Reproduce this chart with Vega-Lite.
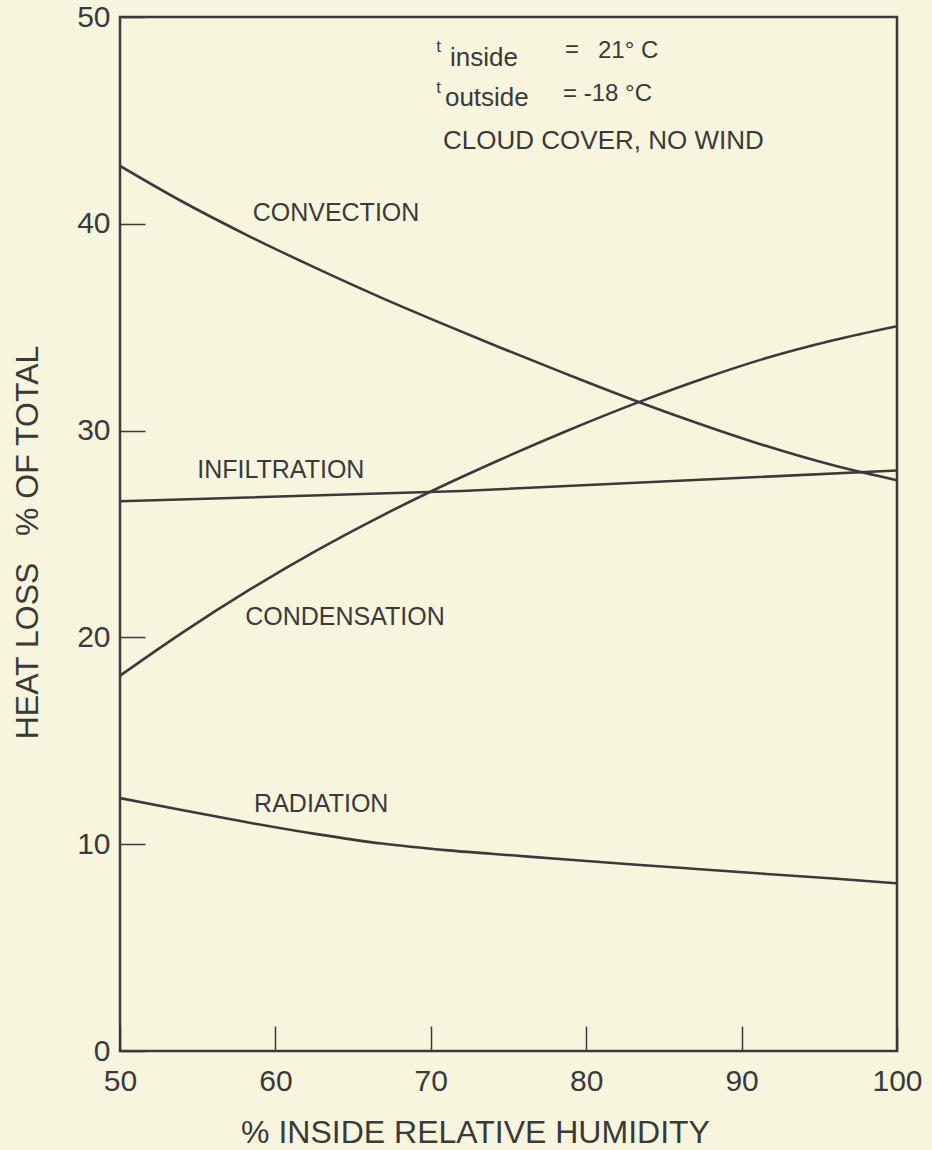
{
  "$schema": "https://vega.github.io/schema/vega-lite/v6.json",
  "width": 777,
  "height": 1034,
  "autosize": "none",
  "padding": {"left": 120, "top": 17, "right": 35, "bottom": 99},
  "background": "#f8f5df",
  "config": {
    "view": {"stroke": "#3a3a3a", "strokeWidth": 2.5},
    "font": "Liberation Sans",
    "axis": {
      "domain": false,
      "grid": false,
      "labelFlush": false,
      "labelOverlap": false,
      "tickColor": "#3a3a3a",
      "tickWidth": 1.5,
      "tickSize": -25,
      "labelColor": "#3a3a3a",
      "labelFont": "Liberation Sans",
      "labelFontSize": 30,
      "titleColor": "#3a3a3a",
      "titleFont": "Liberation Sans",
      "titleFontSize": 32,
      "titleFontWeight": "normal"
    }
  },
  "layer": [
    {
      "data": {
        "values": [
          {"series": "Convection", "rh": 50, "pct": 42.8},
          {"series": "Convection", "rh": 53.97, "pct": 41.09},
          {"series": "Convection", "rh": 58.26, "pct": 39.42},
          {"series": "Convection", "rh": 62.55, "pct": 37.88},
          {"series": "Convection", "rh": 66.84, "pct": 36.42},
          {"series": "Convection", "rh": 70.27, "pct": 35.32},
          {"series": "Convection", "rh": 74.45, "pct": 34.02},
          {"series": "Convection", "rh": 78.74, "pct": 32.73},
          {"series": "Convection", "rh": 83.46, "pct": 31.36},
          {"series": "Convection", "rh": 87.32, "pct": 30.32},
          {"series": "Convection", "rh": 91.6, "pct": 29.25},
          {"series": "Convection", "rh": 95.9, "pct": 28.32},
          {"series": "Convection", "rh": 100, "pct": 27.6},
          {"series": "Condensation", "rh": 50, "pct": 18.15},
          {"series": "Condensation", "rh": 53.97, "pct": 20.21},
          {"series": "Condensation", "rh": 58.26, "pct": 22.27},
          {"series": "Condensation", "rh": 62.55, "pct": 24.16},
          {"series": "Condensation", "rh": 66.84, "pct": 25.88},
          {"series": "Condensation", "rh": 70.27, "pct": 27.15},
          {"series": "Condensation", "rh": 74.45, "pct": 28.59},
          {"series": "Condensation", "rh": 78.74, "pct": 29.98},
          {"series": "Condensation", "rh": 83.46, "pct": 31.4},
          {"series": "Condensation", "rh": 87.32, "pct": 32.46},
          {"series": "Condensation", "rh": 91.6, "pct": 33.51},
          {"series": "Condensation", "rh": 95.9, "pct": 34.37},
          {"series": "Condensation", "rh": 100, "pct": 35.05},
          {"series": "Infiltration", "rh": 50, "pct": 26.58},
          {"series": "Infiltration", "rh": 72, "pct": 27.08},
          {"series": "Infiltration", "rh": 100, "pct": 28.07},
          {"series": "Radiation", "rh": 50, "pct": 12.23},
          {"series": "Radiation", "rh": 53.97, "pct": 11.65},
          {"series": "Radiation", "rh": 58.26, "pct": 11.05},
          {"series": "Radiation", "rh": 62.55, "pct": 10.5},
          {"series": "Radiation", "rh": 66.84, "pct": 10.03},
          {"series": "Radiation", "rh": 71.13, "pct": 9.7},
          {"series": "Radiation", "rh": 75.42, "pct": 9.45},
          {"series": "Radiation", "rh": 78.74, "pct": 9.26},
          {"series": "Radiation", "rh": 83.03, "pct": 9.02},
          {"series": "Radiation", "rh": 87.32, "pct": 8.79},
          {"series": "Radiation", "rh": 91.6, "pct": 8.56},
          {"series": "Radiation", "rh": 95.9, "pct": 8.34},
          {"series": "Radiation", "rh": 100, "pct": 8.11}
        ]
      },
      "mark": {"type": "line", "interpolate": "monotone", "color": "#3a3a3a", "strokeWidth": 2.6, "clip": true},
      "encoding": {
        "x": {
          "field": "rh", "type": "quantitative",
          "scale": {"domain": [50, 100], "nice": false, "zero": false},
          "axis": {
            "values": [50, 60, 70, 80, 90, 100],
            "title": "% INSIDE RELATIVE HUMIDITY",
            "labelPadding": 40,
            "titleX": 355,
            "titleY": 91,
            "titleBaseline": "alphabetic",
            "titleAnchor": "middle"
          }
        },
        "y": {
          "field": "pct", "type": "quantitative",
          "scale": {"domain": [0, 50], "nice": false},
          "axis": {
            "values": [0, 10, 20, 30, 40, 50],
            "title": "HEAT LOSS\u00a0\u00a0\u00a0% OF TOTAL",
            "labelPadding": 35,
            "titleX": -83,
            "titleY": 525,
            "titleAngle": -90,
            "titleBaseline": "alphabetic",
            "titleAlign": "center"
          }
        },
        "detail": {"field": "series"}
      }
    },
    {
      "data": {
        "values": [
          {"rh": 63.9, "pct": 40.12, "label": "CONVECTION"},
          {"rh": 60.35, "pct": 27.71, "label": "INFILTRATION"},
          {"rh": 64.48, "pct": 20.58, "label": "CONDENSATION"},
          {"rh": 62.95, "pct": 11.58, "label": "RADIATION"}
        ]
      },
      "mark": {"type": "text", "align": "center", "baseline": "alphabetic", "fontSize": 25, "color": "#3a3a3a", "font": "Liberation Sans"},
      "encoding": {
        "x": {"field": "rh", "type": "quantitative"},
        "y": {"field": "pct", "type": "quantitative"},
        "text": {"field": "label"}
      }
    },
    {
      "data": {
        "values": [
          {"rh": 70.35, "pct": 48.32, "label": "t"},
          {"rh": 70.35, "pct": 46.33, "label": "t"}
        ]
      },
      "mark": {"type": "text", "align": "left", "baseline": "alphabetic", "fontSize": 17, "color": "#3a3a3a", "font": "Liberation Sans"},
      "encoding": {
        "x": {"field": "rh", "type": "quantitative"},
        "y": {"field": "pct", "type": "quantitative"},
        "text": {"field": "label"}
      }
    },
    {
      "data": {
        "values": [
          {"rh": 71.24, "pct": 47.62, "label": "inside"},
          {"rh": 70.91, "pct": 45.69, "label": "outside"}
        ]
      },
      "mark": {"type": "text", "align": "left", "baseline": "alphabetic", "fontSize": 26, "color": "#3a3a3a", "font": "Liberation Sans"},
      "encoding": {
        "x": {"field": "rh", "type": "quantitative"},
        "y": {"field": "pct", "type": "quantitative"},
        "text": {"field": "label"}
      }
    },
    {
      "data": {
        "values": [
          {"rh": 78.64, "pct": 48.08, "label": "="},
          {"rh": 80.76, "pct": 48.0, "label": "21° C"},
          {"rh": 78.51, "pct": 45.93, "label": "= -18 °C"}
        ]
      },
      "mark": {"type": "text", "align": "left", "baseline": "alphabetic", "fontSize": 24, "color": "#3a3a3a", "font": "Liberation Sans"},
      "encoding": {
        "x": {"field": "rh", "type": "quantitative"},
        "y": {"field": "pct", "type": "quantitative"},
        "text": {"field": "label"}
      }
    },
    {
      "data": {
        "values": [
          {"rh": 70.79, "pct": 43.64, "label": "CLOUD COVER, NO WIND"}
        ]
      },
      "mark": {"type": "text", "align": "left", "baseline": "alphabetic", "fontSize": 26, "color": "#3a3a3a", "font": "Liberation Sans"},
      "encoding": {
        "x": {"field": "rh", "type": "quantitative"},
        "y": {"field": "pct", "type": "quantitative"},
        "text": {"field": "label"}
      }
    }
  ]
}
